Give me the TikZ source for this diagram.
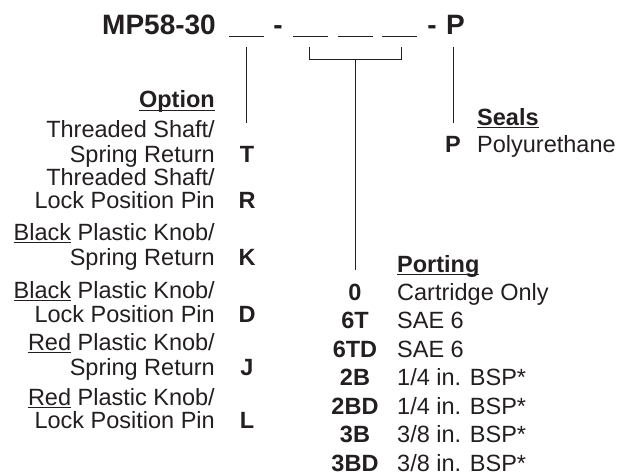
\documentclass[tikz,border=0pt]{standalone}
\usepackage{fontspec}
\setmainfont{Liberation Sans}
\usepackage{tikz}
\usetikzlibrary{positioning}
\definecolor{inkgray}{RGB}{35, 31, 32}
\newcommand{\ulword}[1]{\setbox0\hbox{#1}\rlap{\rule[-2.9pt]{\wd0}{1.3pt}}\box0\relax}

\begin{document}
\begin{tikzpicture}[
  x=1pt, y=-1pt,
  txt/.style={inner sep=0pt, text=inkgray, font=\fontsize{23.5}{28}\selectfont},
  ltxt/.style={txt, anchor=base east},
  rtxt/.style={txt, anchor=base west},
  code/.style={txt, anchor=base, font=\fontsize{23.5}{28}\selectfont\bfseries},
  head/.style={txt, font=\fontsize{23.5}{28}\selectfont\bfseries},
  title/.style={inner sep=0pt, text=inkgray, anchor=base west, font=\fontsize{28}{32}\selectfont\bfseries},
  lead/.style={draw=inkgray, line width=1pt}
]
  \useasboundingbox (0,0) rectangle (618,476);

  % Model code
  \node[title] (model) at (102,35) {MP58-30};
  \node[title, anchor=base] (dash1) at (278,35) {-};
  \node[title, anchor=base] (dash2) at (432,35) {-};
  \node[title, anchor=base] (seal) at (455.5,35) {P};

  % Blanks
  \coordinate (b1l) at (229,37);  \coordinate (b1r) at (264,37);
  \coordinate (b2l) at (293,37);  \coordinate (b2r) at (328,37);
  \coordinate (b3l) at (338,37);  \coordinate (b3r) at (373,37);
  \coordinate (b4l) at (382,37);  \coordinate (b4r) at (417,37);
  \draw[lead] (b1l) -- (b1r);
  \draw[lead] (b2l) -- (b2r);
  \draw[lead] (b3l) -- (b3r);
  \draw[lead] (b4l) -- (b4r);

  % Leads
  \coordinate (opttop) at (246,47);   \coordinate (optend) at (246,123);
  \coordinate (porttl) at (309,47);   \coordinate (porttr) at (401,47);
  \coordinate (portbl) at (309,60);   \coordinate (portbr) at (401,60);
  \coordinate (portmid) at (355,60);  \coordinate (portend) at (355,270);
  \coordinate (sealtop) at (453,47);  \coordinate (sealend) at (453,123);
  \draw[lead] (opttop) -- (optend);
  \draw[lead] (porttl) -- (portbl) -- (portbr) -- (porttr);
  \draw[lead] (portmid) -- (portend);
  \draw[lead] (sealtop) -- (sealend);

  % Option
  \node[head, anchor=base east] (opthead) at (215,108) {\ulword{Option}};
  \node[ltxt] (optT1) at (215,137) {Threaded Shaft/};
  \node[ltxt] (optT2) at (215,162) {Spring Return};
  \node[code] (codeT) at (247,162) {T};
  \node[ltxt] (optR1) at (215,185) {Threaded Shaft/};
  \node[ltxt] (optR2) at (215,208) {Lock Position Pin};
  \node[code] (codeR) at (247,208) {R};
  \node[ltxt] (optK1) at (215,240) {\ulword{Black} Plastic Knob/};
  \node[ltxt] (optK2) at (215,265) {Spring Return};
  \node[code] (codeK) at (247,265) {K};
  \node[ltxt] (optD1) at (215,298) {\ulword{Black} Plastic Knob/};
  \node[ltxt] (optD2) at (215,322) {Lock Position Pin};
  \node[code] (codeD) at (247,322) {D};
  \node[ltxt] (optJ1) at (215,350) {\ulword{Red} Plastic Knob/};
  \node[ltxt] (optJ2) at (215,375) {Spring Return};
  \node[code] (codeJ) at (247,375) {J};
  \node[ltxt] (optL1) at (215,405) {\ulword{Red} Plastic Knob/};
  \node[ltxt] (optL2) at (215,428) {Lock Position Pin};
  \node[code] (codeL) at (247,428) {L};

  % Seals
  \node[head, anchor=base west] (sealhead) at (477,125) {\ulword{Seals}};
  \node[code] (codeP) at (453,153) {P};
  \node[rtxt] (sealP) at (477,153) {Polyurethane};

  % Porting
  \node[head, anchor=base west] (porthead) at (397,272) {\ulword{Porting}};
  \node[code] (code0) at (355,300) {0};
  \node[rtxt] (port0) at (397,300) {Cartridge Only};
  \node[code] (code6T) at (355,328.5) {6T};
  \node[rtxt] (port6T) at (397,328.5) {SAE 6};
  \node[code] (code6TD) at (355,357) {6TD};
  \node[rtxt] (port6TD) at (397,357) {SAE 6};
  \node[code] (code2B) at (355,385.5) {2B};
  \node[rtxt] (port2B) at (397,385.5) {1/4 in. BSP*};
  \node[code] (code2BD) at (355,414) {2BD};
  \node[rtxt] (port2BD) at (397,414) {1/4 in. BSP*};
  \node[code] (code3B) at (355,442.5) {3B};
  \node[rtxt] (port3B) at (397,442.5) {3/8 in. BSP*};
  \node[code] (code3BD) at (355,471) {3BD};
  \node[rtxt] (port3BD) at (397,471) {3/8 in. BSP*};
\end{tikzpicture}
\end{document}
